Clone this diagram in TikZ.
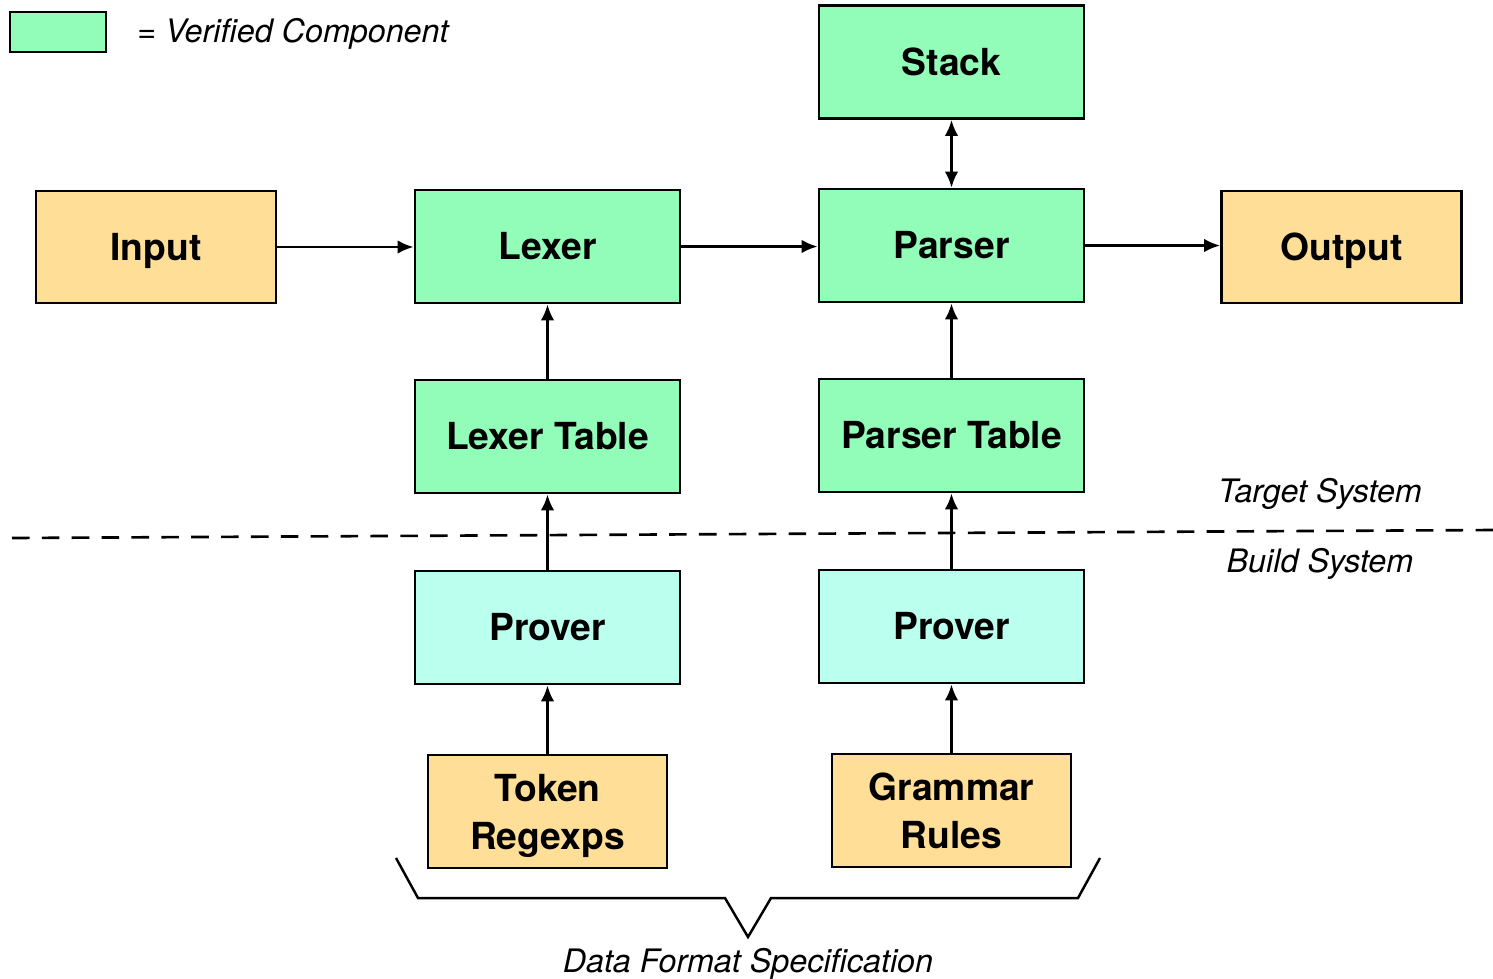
\documentclass[tikz,border=0pt]{standalone}
\usepackage{fontspec}
\setmainfont{TeX Gyre Heros}
\usetikzlibrary{arrows.meta}
\definecolor{vgreen}{HTML}{92FCB9}
\definecolor{pcyan}{HTML}{BBFFEE}
\definecolor{iorange}{HTML}{FFDE97}
\newcommand{\twolines}[2]{\begin{tabular}[t]{@{}c@{}}#1\\#2\end{tabular}}
\tikzset{
  px/.style={x=0.02cm,y=-0.02cm},
  box/.style={draw=black,line width=1.5pt,rectangle,inner sep=0pt,
    font=\fontsize{21.2}{27.5}\selectfont\bfseries,
    text height=15.3pt,text depth=0pt,
    minimum width=5.3cm,minimum height=2.26cm},
  greenbox/.style={box,fill=vgreen},
  cyanbox/.style={box,fill=pcyan},
  orangebox/.style={box,fill=iorange},
  iobox/.style={orangebox,minimum width=4.8cm,minimum height=2.24cm},
  srcbox/.style={orangebox,minimum width=4.78cm,minimum height=2.26cm,text depth=26.5pt},
  conn/.style={line width=1.6pt,-{Latex[length=0.32cm,width=0.27cm]}},
  biconn/.style={line width=1.6pt,{Latex[length=0.32cm,width=0.27cm]}-{Latex[length=0.32cm,width=0.27cm]}},
  note/.style={font=\fontsize{18.4}{21}\selectfont\itshape,inner sep=0pt},
}
\begin{document}
\begin{tikzpicture}[px]
\useasboundingbox (0,0) rectangle (1493,978);
% legend
\node[greenbox,minimum width=1.92cm,minimum height=0.8cm] (legend) at (58,32) {};
\node[note,anchor=west] (legendtext) at (137,34) {= Verified Component};
% nodes
\node[iobox] (input) at (156,247) {Input};
\node[greenbox] (lexer) at (547.5,246.5) {Lexer};
\node[greenbox] (parser) at (951.5,245.5) {Parser};
\node[iobox] (output) at (1341.5,247) {Output};
\node[greenbox] (stack) at (951.5,62) {Stack};
\node[greenbox] (lextab) at (547.5,436.5) {Lexer Table};
\node[greenbox] (partab) at (951.5,435.5) {Parser Table};
\node[cyanbox] (prover1) at (547.5,627.5) {Prover};
\node[cyanbox] (prover2) at (951.5,626.5) {Prover};
\node[srcbox] (token) at (547.5,811.5) {\twolines{Token}{Regexps}};
\node[srcbox] (grammar) at (951.5,810.5) {\twolines{Grammar}{Rules}};
% separator
\coordinate (dashL) at (12,538);
\coordinate (dashR) at (1493,530);
\draw[line width=1.5pt,dash pattern=on 10pt off 7pt] (dashL) -- (dashR);
\node[note] (target) at (1320,494) {Target System};
\node[note] (build) at (1320,564) {Build System};
% connectors
\draw[conn] (input.east) -- (lexer.west |- input.east);
\draw[conn] (lexer.east) -- (parser.west |- lexer.east);
\draw[conn] (parser.east) -- (output.west |- parser.east);
\draw[biconn] (stack.south) -- (parser.north);
\draw[conn] (lextab.north) -- (lexer.south);
\draw[conn] (partab.north) -- (parser.south);
\draw[conn] (prover1.north) -- (lextab.south);
\draw[conn] (prover2.north) -- (partab.south);
\draw[conn] (token.north) -- (prover1.south);
\draw[conn] (grammar.north) -- (prover2.south);
% brace
\coordinate (b1) at (396,858);
\coordinate (b2) at (418,898);
\coordinate (b3) at (725,898);
\coordinate (b4) at (748,937);
\coordinate (b5) at (771,898);
\coordinate (b6) at (1078,898);
\coordinate (b7) at (1100,858);
\draw[line width=1.4pt,line join=miter] (b1) -- (b2) -- (b3) -- (b4) -- (b5) -- (b6) -- (b7);
\node[note] (dfs) at (748,964) {Data Format Specification};
\end{tikzpicture}
\end{document}
